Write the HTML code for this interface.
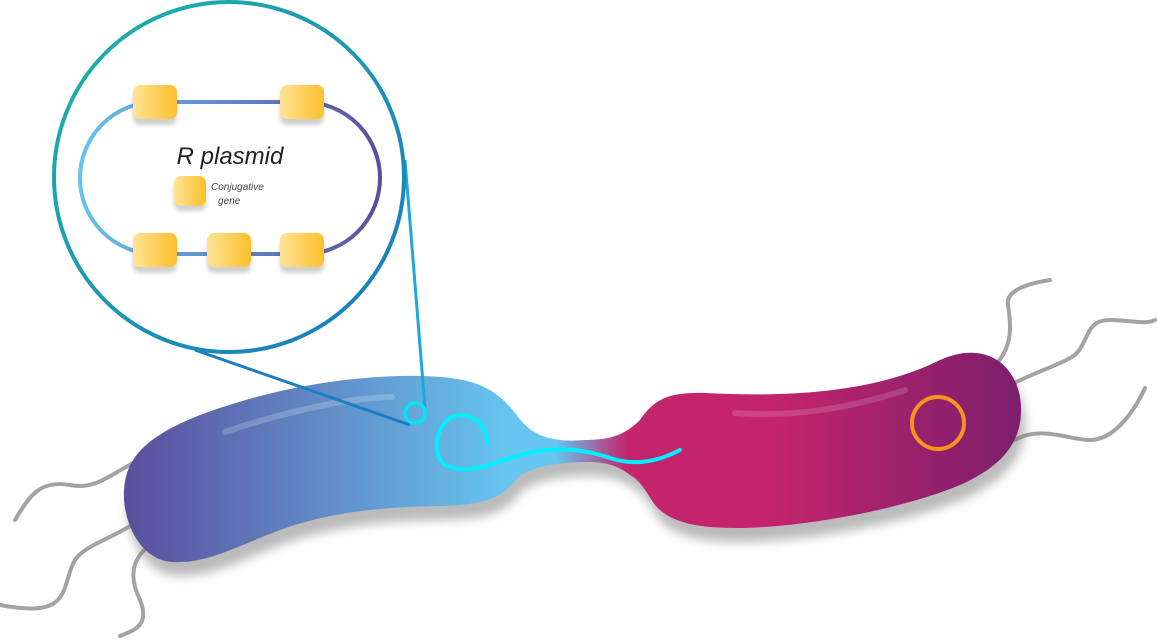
<!DOCTYPE html>
<html><head><meta charset="utf-8"><style>
html,body{margin:0;padding:0;background:#fff;}
svg{display:block;}
</style></head><body>
<svg width="1157" height="641" viewBox="0 0 1157 641" xmlns="http://www.w3.org/2000/svg">
<defs>
<linearGradient id="body" gradientUnits="userSpaceOnUse" x1="125" y1="0" x2="1022" y2="0">
<stop offset="0" stop-color="#5b4e9c"/>
<stop offset="0.43" stop-color="#67c6ef"/>
<stop offset="0.48" stop-color="#67c6ef"/>
<stop offset="0.56" stop-color="#c4246c"/>
<stop offset="0.72" stop-color="#c4246c"/>
<stop offset="1" stop-color="#7b1f6d"/>
</linearGradient>
<linearGradient id="ring" x1="0" y1="0" x2="1" y2="1">
<stop offset="0" stop-color="#1db5a6"/>
<stop offset="1" stop-color="#1a78c2"/>
</linearGradient>
<linearGradient id="pl" x1="0" y1="0" x2="1" y2="0">
<stop offset="0" stop-color="#66c2ee"/>
<stop offset="1" stop-color="#5a4f9e"/>
</linearGradient>
<linearGradient id="gene" x1="0" y1="0" x2="1" y2="0">
<stop offset="0" stop-color="#ffe396"/>
<stop offset="1" stop-color="#fcc02a"/>
</linearGradient>
<filter id="blur" x="-10%" y="-10%" width="120%" height="130%"><feGaussianBlur stdDeviation="5"/></filter>
<filter id="gs" x="-20%" y="-20%" width="140%" height="160%"><feGaussianBlur stdDeviation="2"/></filter>
</defs>

<g fill="none" stroke="#a3a3a3" stroke-width="4" stroke-linecap="round">
<path d="M135,462 C110,475 95,490 70,485 C40,480 30,495 15,520"/>
<path d="M140,520 C110,540 85,545 75,560 C60,585 75,620 0,605"/>
<path d="M150,545 C130,560 130,580 140,600 C150,625 135,630 120,636"/>
<path d="M995,365 C1015,345 1010,320 1008,305 C1005,290 1030,283 1050,280"/>
<path d="M1010,385 C1040,370 1060,365 1075,355 C1090,340 1085,320 1110,320 C1130,320 1145,325 1155,320"/>
<path d="M1015,440 C1040,425 1070,440 1090,440 C1110,440 1130,420 1145,388"/>
</g>

<g filter="url(#blur)" opacity="0.5">
<path transform="translate(4,14)" fill="#777" d="M179,562 C140,565 122,520 124,490 C126,455 150,435 200,415 C280,385 360,375 420,376 C470,377 495,385 518,417 C535,440 560,442 585,440 C610,440 625,435 640,420 C655,398 670,392 706,393 C800,398 880,390 940,360 C990,338 1020,370 1021,407 C1022,440 1005,465 960,485 C900,510 800,528 736,528 C690,528 668,520 655,505 C645,490 640,480 630,475 C615,463 600,462 585,462 C555,462 530,468 518,477 C505,495 490,505 440,506 C380,507 330,512 280,530 C240,545 210,562 179,562 Z"/>
</g>
<path fill="url(#body)" d="M179,562 C140,565 122,520 124,490 C126,455 150,435 200,415 C280,385 360,375 420,376 C470,377 495,385 518,417 C535,440 560,442 585,440 C610,440 625,435 640,420 C655,398 670,392 706,393 C800,398 880,390 940,360 C990,338 1020,370 1021,407 C1022,440 1005,465 960,485 C900,510 800,528 736,528 C690,528 668,520 655,505 C645,490 640,480 630,475 C615,463 600,462 585,462 C555,462 530,468 518,477 C505,495 490,505 440,506 C380,507 330,512 280,530 C240,545 210,562 179,562 Z"/>
<path d="M225,432 C290,410 350,398 392,397" fill="none" stroke="#ffffff" stroke-opacity="0.2" stroke-width="6" stroke-linecap="round"/>
<path d="M735,413 C800,418 860,405 905,390" fill="none" stroke="#ffffff" stroke-opacity="0.15" stroke-width="6" stroke-linecap="round"/>

<path d="M487,443 C487,420 465,410 450,418 C435,428 432,455 445,465 C465,475 490,465 510,458 C550,445 580,448 610,458 C640,468 665,458 680,450" fill="none" stroke="#00f0ff" stroke-width="4" stroke-linecap="round"/>
<circle cx="938" cy="423" r="26" fill="none" stroke="#f7941d" stroke-width="4"/>

<line x1="195" y1="350" x2="410" y2="425" stroke="#1a7fc4" stroke-width="3"/>
<line x1="405" y1="160" x2="425" y2="408" stroke="#1ea8d8" stroke-width="3"/>
<circle cx="415" cy="413" r="10" fill="none" stroke="#00e8f8" stroke-width="3.5"/>
<circle cx="229" cy="177" r="175" fill="#fff" stroke="url(#ring)" stroke-width="4"/>

<rect x="80" y="102" width="300" height="152" rx="76" fill="none" stroke="url(#pl)" stroke-width="4"/>
<g filter="url(#gs)" fill="#000" opacity="0.18">
<rect x="133" y="91" width="44" height="34" rx="7"/><rect x="280" y="91" width="44" height="34" rx="7"/>
<rect x="133" y="239" width="44" height="34" rx="7"/><rect x="207" y="239" width="44" height="34" rx="7"/><rect x="280" y="239" width="44" height="34" rx="7"/>
<rect x="174" y="181" width="32" height="30" rx="7"/>
</g>
<g fill="url(#gene)">
<rect x="133" y="85" width="44" height="34" rx="7"/><rect x="280" y="85" width="44" height="34" rx="7"/>
<rect x="133" y="233" width="44" height="34" rx="7"/><rect x="207" y="233" width="44" height="34" rx="7"/><rect x="280" y="233" width="44" height="34" rx="7"/>
<rect x="174" y="176" width="32" height="30" rx="7"/>
</g>
<text x="230" y="164" text-anchor="middle" font-family="Liberation Sans, sans-serif" font-size="24" font-style="italic" fill="#222">R plasmid</text>
<text x="211" y="190" font-family="Liberation Sans, sans-serif" font-size="10" font-style="italic" fill="#444">Conjugative</text>
<text x="218" y="204" font-family="Liberation Sans, sans-serif" font-size="10" font-style="italic" fill="#444">gene</text>
</svg>
</body></html>
